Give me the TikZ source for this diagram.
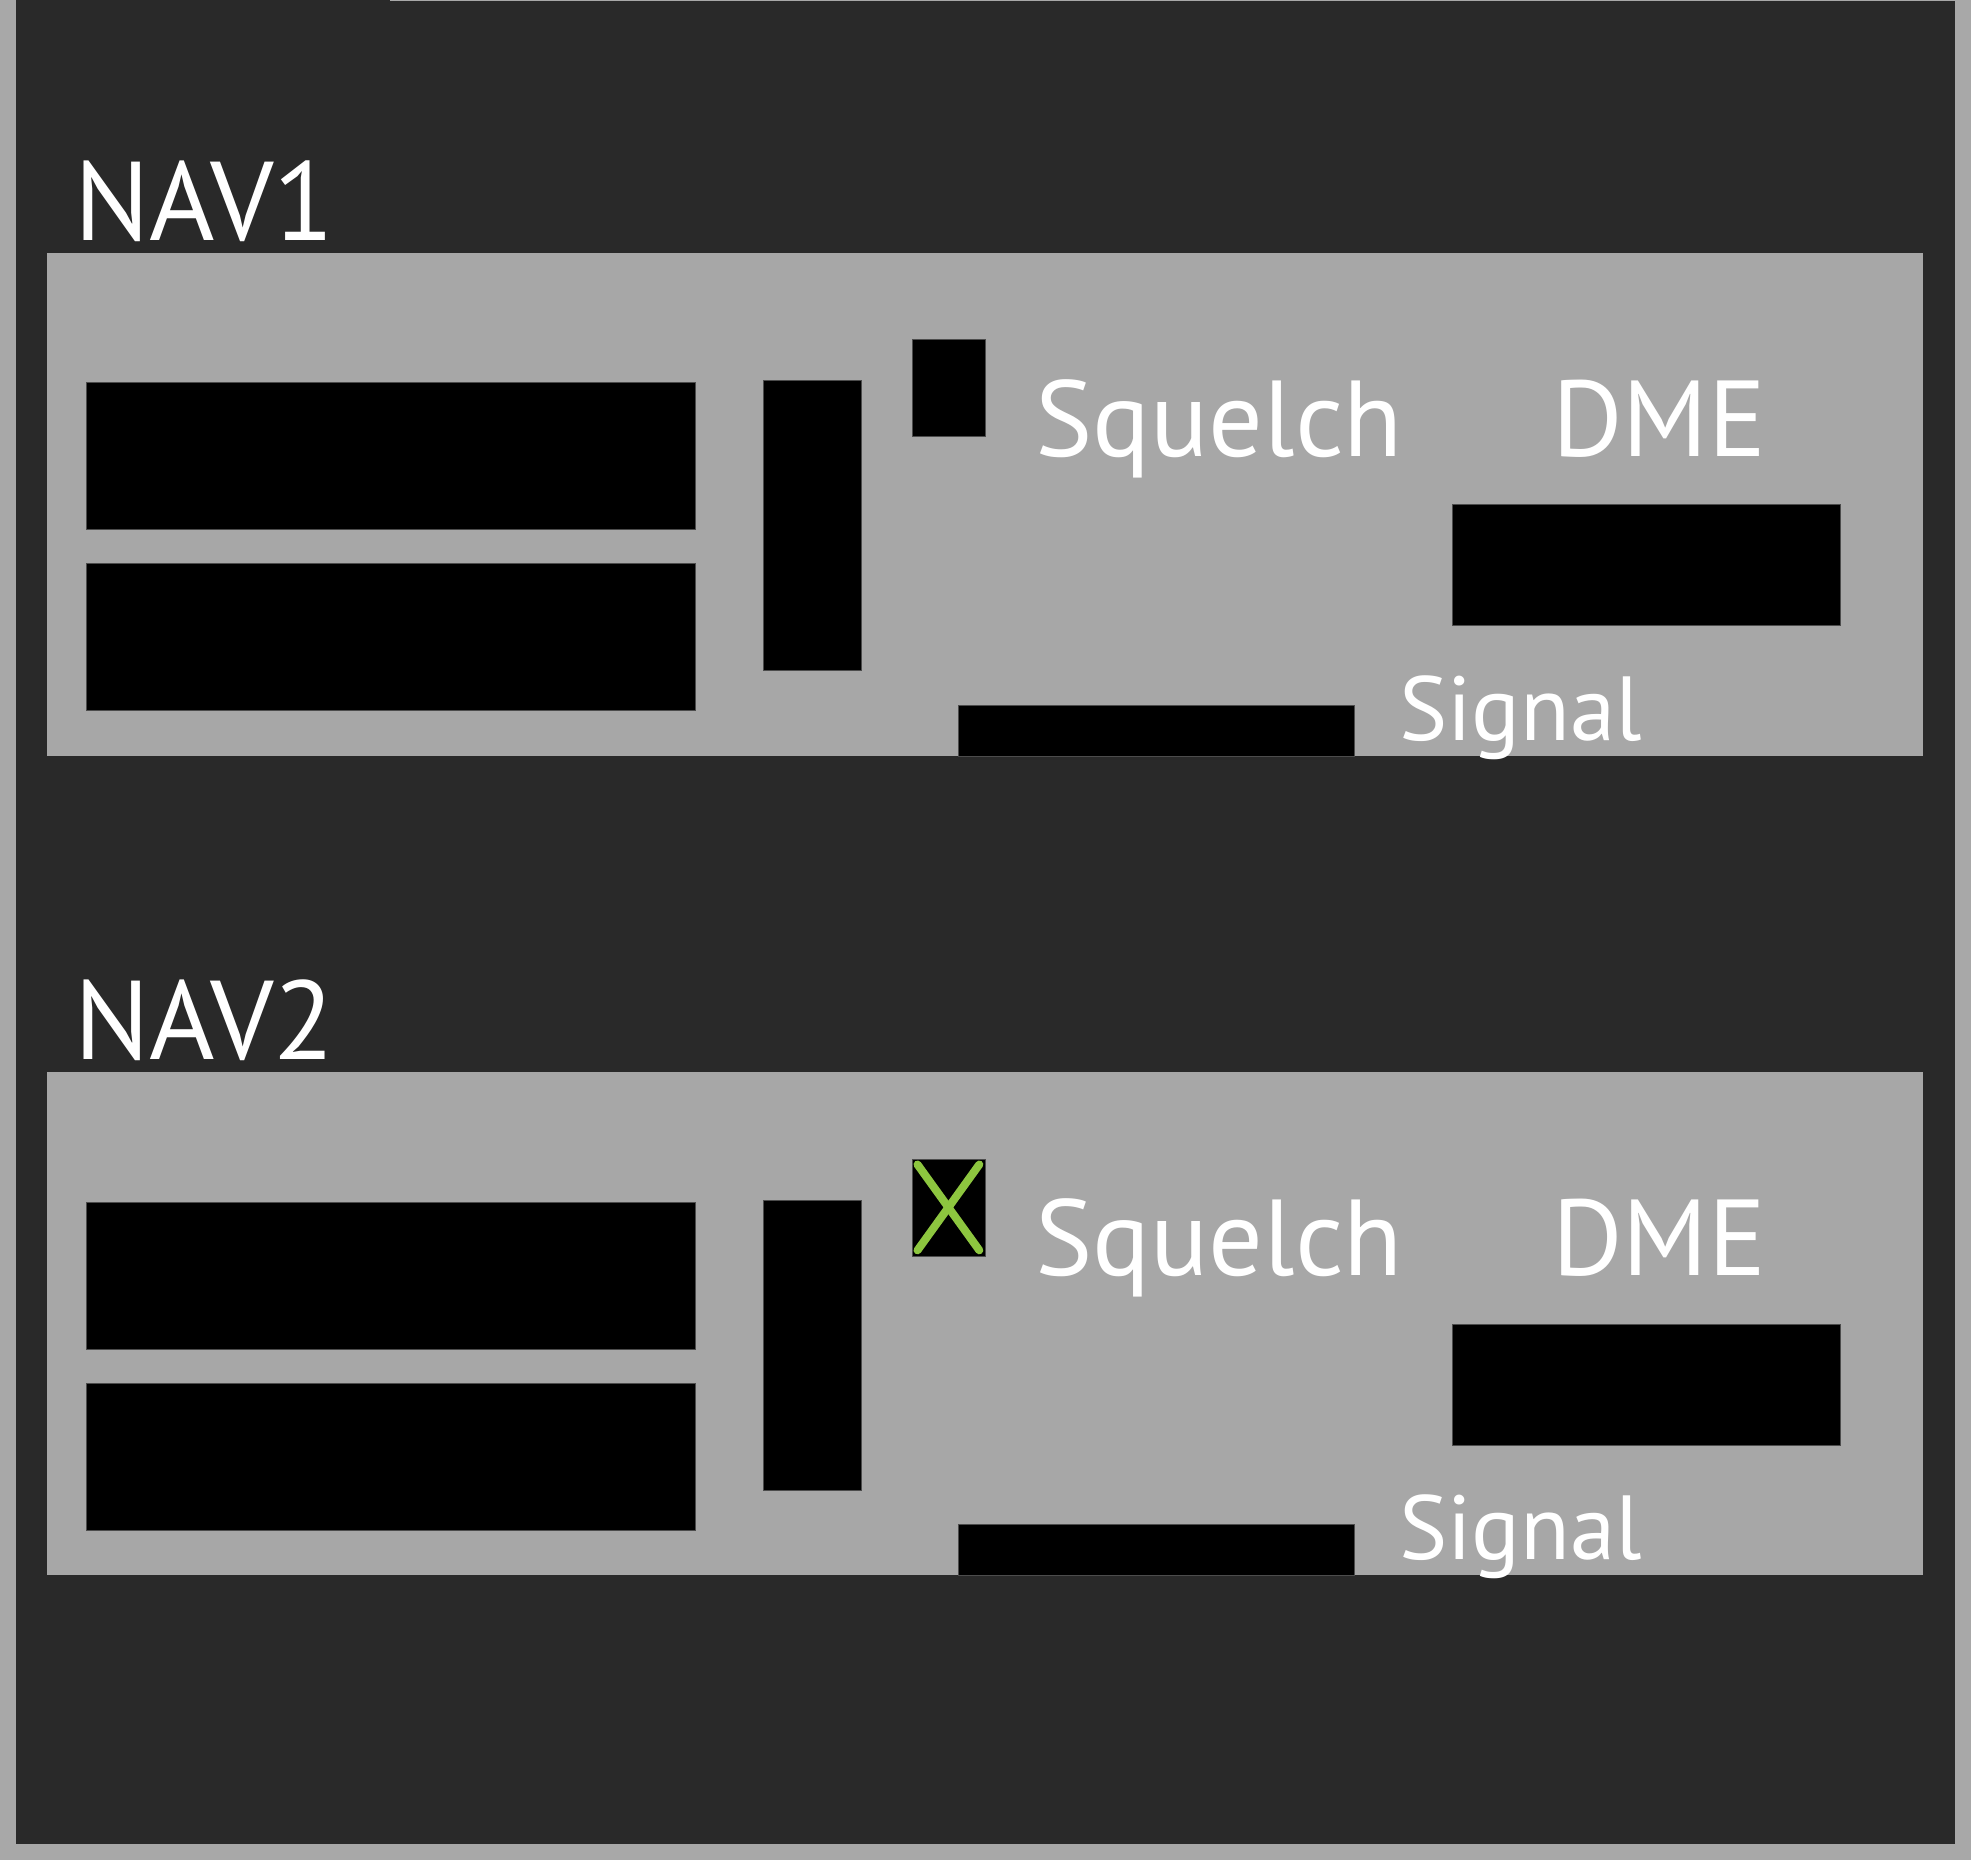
\documentclass[tikz,border=0pt]{standalone}
\usepackage{fontspec}
\setmainfont{PT Sans}
\usetikzlibrary{positioning}
\definecolor{framegray}{HTML}{A8A8A8}
\definecolor{bgdark}{HTML}{292929}
\definecolor{panelgray}{HTML}{A7A7A7}
\definecolor{checkgreen}{HTML}{8DC63F}
\tikzstyle{panel} = [rectangle, fill=panelgray, inner sep=0pt, anchor=north west]
\tikzstyle{blackbox} = [rectangle, fill=black, draw=black!70, line width=0.8pt, inner sep=0pt, anchor=north west]
\tikzstyle{title} = [text=white, inner sep=0pt, anchor=base west, font=\fontsize{112}{120}\selectfont]
\tikzstyle{label} = [text=white, inner sep=0pt, anchor=base west, font=\fontsize{108}{120}\selectfont]
\tikzstyle{small} = [text=white, inner sep=0pt, anchor=base west, font=\fontsize{91}{100}\selectfont]
\tikzstyle{cross} = [checkgreen, line width=8pt, line cap=round]

\begin{document}
\begin{tikzpicture}[x=1pt, y=-1pt]
    \useasboundingbox (0,0) rectangle (1971,1860);
    \fill[framegray] (0,0) rectangle (1971,1860);
    \fill[bgdark] (16,1) rectangle (1955,1844);
    \fill[bgdark] (16,0) rectangle (390,1);

    \foreach \n/\dy in {1/0, 2/819.5} {
        \node (title\n) [title] at (74, {240+\dy}) {NAV\n};
        \node (panel\n) [panel, minimum width=1876.5pt, minimum height=503pt] at (46.5, {252.5+\dy}) {};
        % frequency displays
        \node (active\n) [blackbox, minimum width=609.5pt, minimum height=147pt] at (85.5, {382+\dy}) {};
        \node (standby\n) [blackbox, minimum width=609.5pt, minimum height=147pt] at (85.5, {563+\dy}) {};
        \node (volume\n) [blackbox, minimum width=98pt, minimum height=290pt] at (763, {380+\dy}) {};
        \node (check\n) [blackbox, minimum width=73pt, minimum height=97pt] at (911.5, {339+\dy}) {};
        \node (squelch\n) [label] at (1035, {456+\dy}) {Squelch};
        \node (dmelabel\n) [label] at (1552, {456+\dy}) {DME};
        \node (dme\n) [blackbox, minimum width=388pt, minimum height=121pt] at (1452, {504+\dy}) {};
        \node (signal\n) [blackbox, minimum width=396pt, minimum height=51pt] at (958, {704.5+\dy}) {};
        \node (signallabel\n) [small] at (1399, {740+\dy}) {Signal};
    }

    \draw[cross] ([shift={(6,6)}]check2.north west) -- ([shift={(-6,-6)}]check2.south east);
    \draw[cross] ([shift={(-6,6)}]check2.north east) -- ([shift={(6,-6)}]check2.south west);
\end{tikzpicture}
\end{document}
